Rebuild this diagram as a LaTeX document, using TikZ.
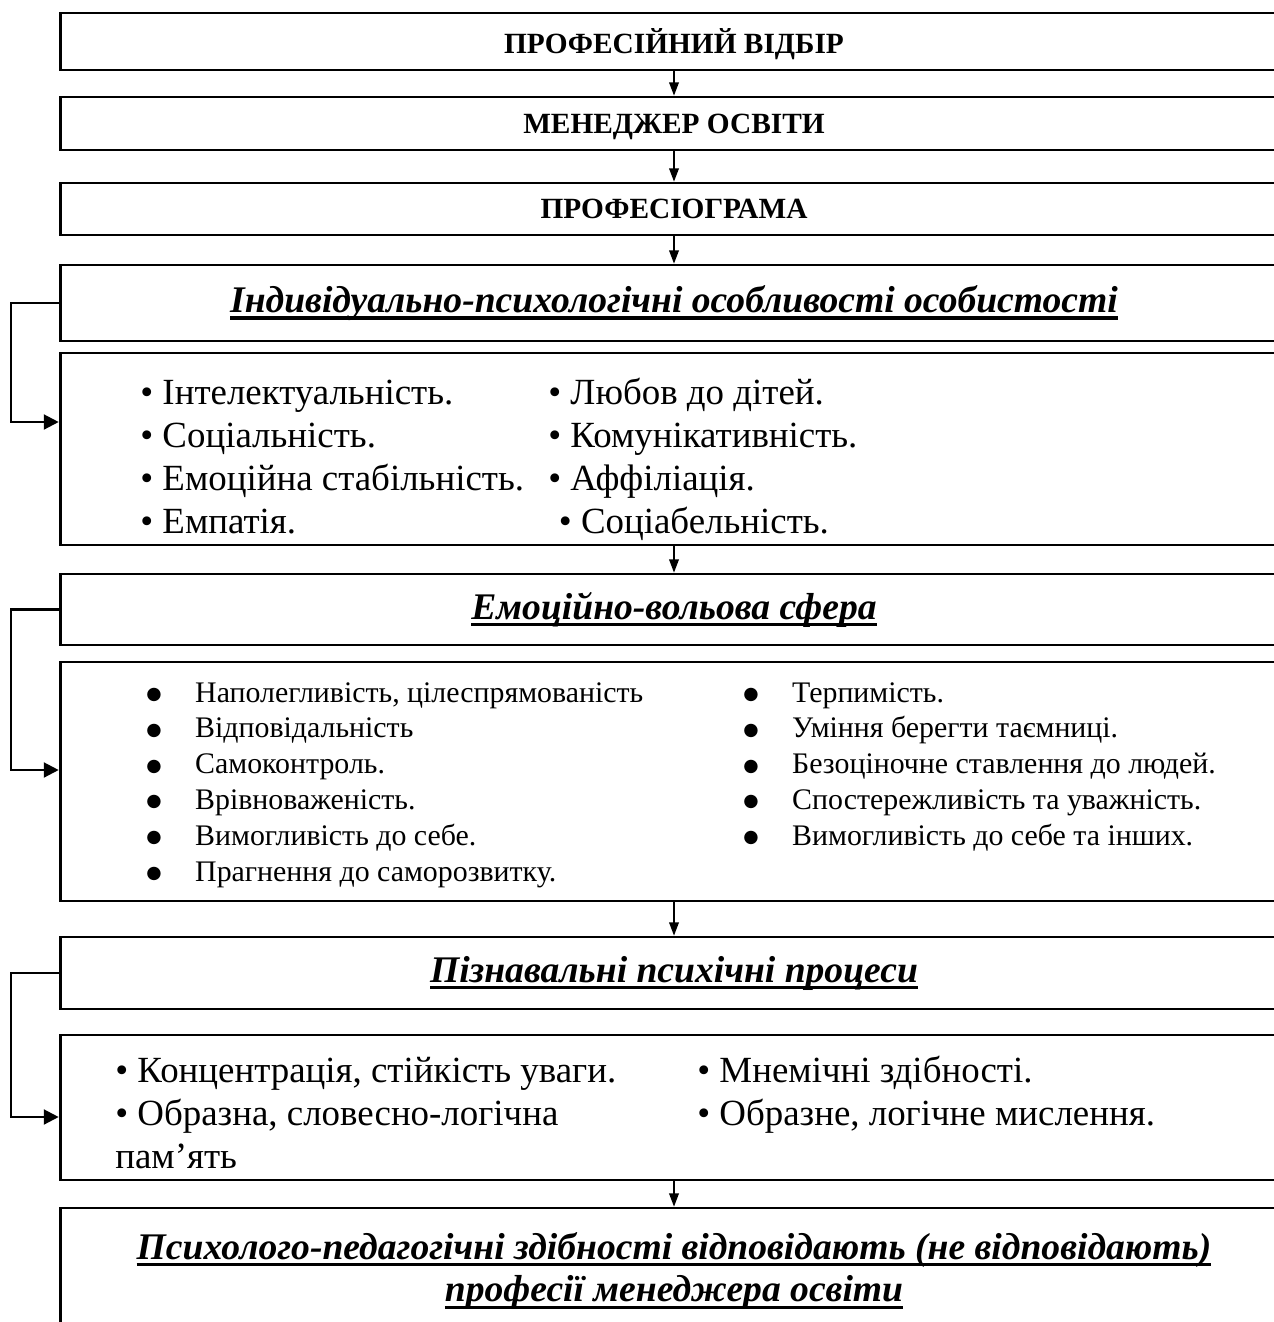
\documentclass[tikz,border=0pt]{standalone}
\usepackage{fontspec}
\setmainfont{Liberation Serif}
\newfontfamily\dotfont{DejaVu Sans}
\usetikzlibrary{arrows.meta}

\newsavebox{\headbox}
\newcommand{\headul}[1]{\sbox{\headbox}{#1}\leavevmode\rlap{\rule[-4.2pt]{\wd\headbox}{2pt}}\usebox{\headbox}}
\newcommand{\dotitem}[1]{\makebox[27.8pt][l]{\raisebox{1.6pt}{\dotfont\fontsize{10}{0}\selectfont ●}}#1}
\newcommand{\firstline}{\rule{0pt}{20pt}}

\begin{document}
\begin{tikzpicture}[x=0.02cm,y=-0.02cm,
  box/.style={draw=black,line width=1.6pt,minimum width=24.56cm,inner sep=0pt},
  capt/.style={font=\bfseries\fontsize{16.7}{20}\selectfont,text depth=0pt},
  head/.style={font=\bfseries\itshape\fontsize{21.4}{24.4}\selectfont,align=center},
  lst/.style={anchor=north west,inner sep=0pt,align=left,font=\fontsize{21}{24.4}\selectfont},
  lstsmall/.style={anchor=north west,inner sep=0pt,align=left,font=\fontsize{17}{20.4}\selectfont},
  down/.style={line width=0.8pt,-{Triangle[length=7.5pt,width=5.5pt]}},
  back/.style={line width=1.3pt,-{Triangle[length=8.5pt,width=8.5pt]}}]

  \useasboundingbox (0,0) rectangle (1274,1322);
  \clip (0,0) rectangle (1274,1322);

  \node[box,capt,minimum height=1.14cm] (b1) at (674,41.5) {ПРОФЕСІЙНИЙ ВІДБІР};
  \node[box,capt,minimum height=1.06cm] (b2) at (674,123.5) {МЕНЕДЖЕР ОСВІТИ};
  \node[box,capt,minimum height=1.04cm] (b3) at (674,209) {ПРОФЕСІОГРАМА};
  \node[box,head,minimum height=1.52cm] (b4) at (674,303) {\headul{Індивідуально-психологічні особливості особистості}};
  \node[box,minimum height=3.84cm] (b5) at (674,449) {};
  \node[box,head,minimum height=1.42cm] (b6) at (674,609.5) {\headul{Емоційно-вольова сфера}};
  \node[box,minimum height=4.78cm] (b7) at (674,781.5) {};
  \node[box,head,minimum height=1.44cm] (b8) at (674,973) {\headul{Пізнавальні психічні процеси}};
  \node[box,minimum height=2.9cm] (b9) at (674,1107.5) {};
  \node[box,head,minimum height=2.52cm] (b10) at (674,1271) {\headul{Психолого-педагогічні здібності відповідають (не відповідають)}\\\headul{професії менеджера освіти}};

  % lists
  \node[lst] (p1) at (140,369) {\firstline• Інтелектуальність.\\• Соціальність.\\• Емоційна стабільність.\\• Емпатія.};
  \node[lst] (p2) at (548,369) {\firstline• Любов до дітей.\\• Комунікативність.\\• Аффіліація.\\\hspace*{6pt}• Соціабельність.};

  \node[lstsmall] (q1) at (146,682) {\dotitem{Наполегливість, цілеспрямованість}\\\dotitem{Відповідальність}\\\dotitem{Самоконтроль.}\\\dotitem{Врівноваженість.}\\\dotitem{Вимогливість до себе.}\\\dotitem{Прагнення до саморозвитку.}};
  \node[lstsmall] (q2) at (743,682) {\dotitem{Терпимість.}\\\dotitem{Уміння берегти таємниці.}\\\dotitem{Безоціночне ставлення до людей.}\\\dotitem{Спостережливість та уважність.}\\\dotitem{Вимогливість до себе та інших.}};

  \node[lst] (r1) at (115,1047) {\firstline• Концентрація, стійкість уваги.\\• Образна, словесно-логічна\\пам’ять};
  \node[lst] (r2) at (697,1047) {\firstline• Мнемічні здібності.\\• Образне, логічне мислення.};

  % arrows
  \draw[down] (b1) -- (b2);
  \draw[down] (b2) -- (b3);
  \draw[down] (b3) -- (b4);
  \draw[down] (b5) -- (b6);
  \draw[down] (b7) -- (b8);
  \draw[down] (b9) -- (b10);

  \draw[back] (b4.west) -- ++(-48,0) |- ([yshift=0.54cm]b5.west);
  \draw[back] (b6.west) -- ++(-48,0) |- ([yshift=0.23cm]b7.west);
  \draw[back] (b8.west) -- ++(-48,0) |- ([yshift=-0.19cm]b9.west);
\end{tikzpicture}
\end{document}
